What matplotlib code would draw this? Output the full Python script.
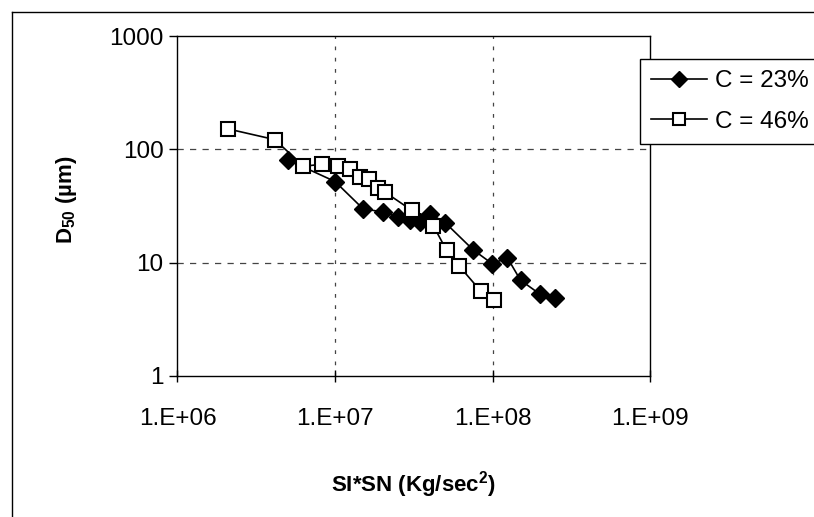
import matplotlib
matplotlib.use("Agg")
import matplotlib.pyplot as plt
from matplotlib.lines import Line2D

plt.rcParams["font.family"] = ["Liberation Sans", "DejaVu Sans"]
plt.rcParams["mathtext.fontset"] = "custom"
plt.rcParams["mathtext.rm"] = "Liberation Sans"
plt.rcParams["mathtext.bf"] = "Liberation Sans:bold"

# C = 23 %
x23 = [5.0e6, 1.0e7, 1.5e7, 2.0e7, 2.5e7, 3.0e7, 3.45e7, 4.0e7, 5.0e7,
       7.5e7, 9.9e7, 1.24e8, 1.5e8, 1.98e8, 2.5e8]
y23 = [81, 52, 30, 28, 25.5, 24, 22.8, 27, 22.5, 13, 9.8, 11, 7, 5.3, 4.9]

# C = 46 %
x46 = [2.08e6, 4.15e6, 6.3e6, 8.3e6, 1.05e7, 1.24e7, 1.44e7, 1.64e7, 1.86e7,
       2.07e7, 3.06e7, 4.2e7, 5.1e7, 6.1e7, 8.4e7, 1.02e8]
y46 = [152, 122, 71, 74, 71, 67, 57, 55, 46, 42, 29, 21.2, 12.8, 9.4, 5.6, 4.7]

labels = ["C = 23%", "C = 46%"]
xticks = [1e6, 1e7, 1e8, 1e9]
xticklabels = ["1.E+06", "1.E+07", "1.E+08", "1.E+09"]
yticks = [1, 10, 100, 1000]
yticklabels = ["1", "10", "100", "1000"]

fig = plt.figure(figsize=(8.14, 5.17), dpi=100)
ax = fig.add_axes([0.218, 0.273, 0.581, 0.657])

ax.plot(x23, y23, color="black", lw=1.2, marker="D", ms=9,
        mfc="black", mec="black", label=labels[0], zorder=3)
ax.plot(x46, y46, color="black", lw=1.2, marker="s", ms=10,
        mfc="white", mec="black", mew=1.5, label=labels[1], zorder=3)

ax.set_xscale("log")
ax.set_yscale("log")
ax.set_xlim(1e6, 1e9)
ax.set_ylim(1, 1000)
ax.set_xticks(xticks)
ax.set_xticklabels(xticklabels)
ax.set_yticks(yticks)
ax.set_yticklabels(yticklabels)
ax.minorticks_off()

ax.tick_params(axis="y", direction="out", length=6, width=1, pad=4, labelsize=17.5)
ax.tick_params(axis="x", direction="inout", length=8, width=1, pad=19, labelsize=17.5)

for y in [10, 100]:
    ax.axhline(y, color="#444444", lw=0.9, ls=(0, (5, 5)), zorder=1)
for x in [1e7, 1e8]:
    ax.axvline(x, color="#444444", lw=0.9, ls=(0, (3, 6)), zorder=1)

for s in ax.spines.values():
    s.set_color("black")
    s.set_linewidth(1)

ax.set_xlabel(r"SI*SN (Kg/sec$^{\mathbf{2}}$)", fontsize=16, fontweight="bold")
ax.xaxis.set_label_coords(0.5, -0.275)
ax.set_ylabel(r"$\mathbf{D_{50}}$ (µm)", fontsize=16, fontweight="bold")
ax.yaxis.set_label_coords(-0.208, 0.52)

leg = fig.legend(loc="upper left", bbox_to_anchor=(0.786, 0.885),
                 fontsize=17.5, frameon=True, fancybox=False, edgecolor="black",
                 handlelength=2.3, handletextpad=0.35, borderpad=0.45,
                 labelspacing=0.75, borderaxespad=0)
leg.get_frame().set_linewidth(1)
leg.get_frame().set_alpha(1)
for h in leg.legend_handles:
    h.set_markersize(8)

# outer chart border (only the left and top edges show)
fig.add_artist(Line2D([0.015, 0.015], [0.0, 0.977], color="black", lw=1))
fig.add_artist(Line2D([0.015, 1.0], [0.977, 0.977], color="black", lw=1))

fig.savefig("out.png", dpi=100, facecolor="white")
